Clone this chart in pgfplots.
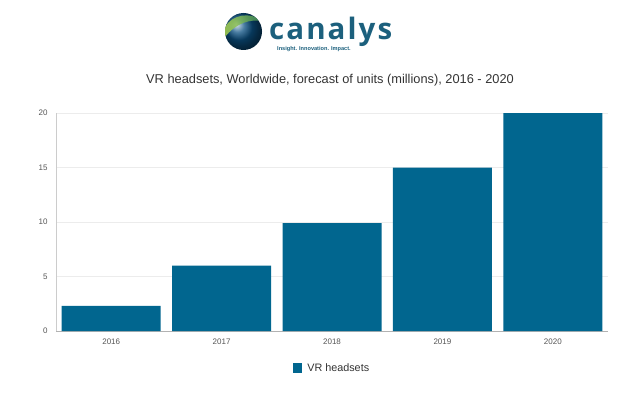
\documentclass[border=0pt]{standalone}
\usepackage{fontspec}
\setmainfont{Liberation Sans}
\newfontfamily\logofont[LetterSpace=7]{Open Sans}
\usepackage{pgfplots}
\pgfplotsset{compat=1.18}
\definecolor{barblue}{RGB}{1,102,143}
\definecolor{logoblue}{RGB}{28,96,125}
\definecolor{ticklab}{RGB}{85,85,85}
\definecolor{gridc}{RGB}{236,236,236}
\begin{document}
\begin{tikzpicture}[x=1pt,y=1pt]
\useasboundingbox (0,0) rectangle (620,397);
% logo
\shade[ball color={rgb,255:red,10;green,80;blue,130}] (243.5,365.5) circle (18.5);
\begin{scope}
\clip (243.5,365.5) circle (18.5);
\shade[left color={rgb,255:red,170;green,210;blue,80}, right color={rgb,255:red,60;green,140;blue,90}, opacity=0.85]
  (225,370) .. controls (232,382) and (250,386) .. (262,376) .. controls (250,378) and (236,374) .. (225,360) -- cycle;
\end{scope}
\node[anchor=base west, text=logoblue, inner sep=0, text depth=0pt, font=\logofont\bfseries\fontsize{29.5}{30}\selectfont] at (269,357) {canalys};
\node[anchor=west, text=logoblue, inner sep=0, font=\fontsize{5.6}{6}\selectfont\bfseries] at (277,347.5) {Insight. Innovation. Impact.};
% title
\node[text=black!80, font=\fontsize{12.8}{14}\selectfont] at (330,317) {VR headsets, Worldwide, forecast of units (millions), 2016 - 2020};
\begin{axis}[
  at={(56pt,66pt)}, anchor=south west,
  scale only axis, width=552pt, height=218pt,
  xmin=-0.5, xmax=4.5, ymin=0, ymax=20,
  xtick={0,1,2,3,4}, xticklabels={2016,2017,2018,2019,2020},
  ytick={0,5,10,15,20},
  /pgf/number format/assume math mode=true,
  tick label style={font=\fontsize{8}{9}\selectfont, text=ticklab},
  xticklabel style={yshift=-4pt},
  yticklabel style={xshift=-5pt},
  major tick length=0pt,
  ymajorgrids, grid style={gridc, line width=0.6pt},
  axis line style={draw=none},
  axis x line*=bottom, axis y line*=left,
  legend style={at={(0.5,-0.17)}, anchor=center, draw=none, fill=none,
    font=\fontsize{10.8}{12}\selectfont, text=black!80},
  legend image code/.code={\fill[barblue] (0pt,-4.5pt) rectangle (9.5pt,5pt);},
]
\draw[gray!40, line width=0.6pt] (rel axis cs:0,0) -- (rel axis cs:0,1);
\draw[gray!60, line width=0.8pt] (rel axis cs:0,0) -- (rel axis cs:1,0);
\addplot[ybar, bar width=99pt, fill=barblue, draw=none] coordinates {(0,2.3) (1,6) (2,9.9) (3,15) (4,20)};
\addlegendentry{\hspace{3pt}VR headsets}
\end{axis}
\end{tikzpicture}
\end{document}
